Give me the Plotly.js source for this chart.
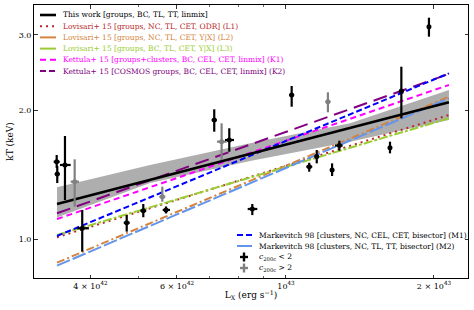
<!DOCTYPE html>
<html>
<head>
<meta charset="utf-8">
<script src="https://cdn.plot.ly/plotly-3.0.1.min.js"></script>
<style>html,body{margin:0;padding:0;background:#fff;}#chart{width:474px;height:310px;}</style>
</head>
<body>
<div id="chart"></div>
<script>
// ---- fit relations (Lx in erg/s, kT in keV), read at the ends of the plotted range
const fitLx     = [3.42e42, 2.146e43];
const thisWork  = [1.209, 2.088];
const lov1      = [1.011, 1.950];
const lov2      = [0.882, 2.152];
const lov3      = [1.023, 1.916];
const ket1      = [1.115, 2.292];
const ket2      = [1.150, 2.432];
const mark1     = [1.018, 2.440];
const mark2     = [0.868, 2.133];

// ---- uncertainty band of this work
const bandLx    = [3.42e42, 5.29e42, 8.45e42, 1.35e43, 2.146e43];
const bandUp    = [1.322, 1.491, 1.675, 1.865, 2.231];
const bandLo    = [1.125, 1.353, 1.523, 1.690, 1.898];

// ---- groups with c200c < 2 (Lx in units of 1e42 erg/s)
const lowLx   = [3.415, 3.424, 3.550, 3.849, 4.741, 5.124, 5.700, 7.145, 7.667, 8.540, 10.27, 11.15, 11.55, 12.41, 12.84, 16.28, 17.17, 19.54];
const lowLxLo = [3.367, 3.384, 3.467, 3.760, 4.675, 5.053, 5.612, 7.061, 7.514, 8.357, 10.15, 11.00, 11.44, 12.29, 12.58, 16.13, 16.97, 19.36];
const lowLxHi = [3.463, 3.464, 3.646, 3.972, 4.808, 5.196, 5.807, 7.229, 7.838, 8.742, 10.39, 11.31, 11.66, 12.53, 13.04, 16.43, 17.37, 19.72];
const lowKt   = [1.517, 1.420, 1.491, 1.061, 1.093, 1.166, 1.171, 1.898, 1.705, 1.177, 2.172, 1.477, 1.560, 1.451, 1.655, 1.636, 2.219, 3.134];
const lowKtLo = [1.467, 1.353, 1.235, 0.936, 1.042, 1.126, 1.149, 1.783, 1.601, 1.139, 2.039, 1.438, 1.504, 1.405, 1.610, 1.587, 1.916, 2.971];
const lowKtHi = [1.573, 1.483, 1.742, 1.171, 1.139, 1.209, 1.193, 2.011, 1.816, 1.209, 2.279, 1.509, 1.616, 1.504, 1.699, 1.690, 2.528, 3.290];

// ---- groups with c200c > 2
const highLx   = [3.715, 5.602, 7.396, 12.17];
const highLxLo = [3.646, 5.524, 7.236, 12.03];
const highLxHi = [3.791, 5.681, 7.572, 12.32];
const highKt   = [1.363, 1.257, 1.690, 2.095];
const highKtLo = [1.191, 1.224, 1.531, 1.979];
const highKtHi = [1.537, 1.327, 1.865, 2.203];

// ---- axis ticks
const xTickVals  = [4e42, 6e42, 1e43, 2e43];
const xTickText  = ['4 × 10<sup>42</sup>', '6 × 10<sup>42</sup>', '10<sup>43</sup>', '2 × 10<sup>43</sup>'];
const xMinorVals = [5e42, 7e42, 8e42, 9e42];
const yTickVals  = [1, 2, 3];
const yTickText  = ['1.0', '2.0', '3.0'];

// ---- legend labels
const legendTop = [
  'This work [groups, BC, TL, TT, linmix]',
  'Lovisari+ 15 [groups, NC, TL, CET, ODR] (L1)',
  'Lovisari+ 15 [groups, NC, TL, CET, Y|X] (L2)',
  'Lovisari+ 15 [groups, BC, TL, CET, Y|X] (L3)',
  'Kettula+ 15 [groups+clusters, BC, CEL, CET, linmix] (K1)',
  'Kettula+ 15 [COSMOS groups, BC, CEL, CET, linmix] (K2)'
];
const legendBottom = [
  'Markevitch 98 [clusters, NC, CEL, CET, bisector] (M1)',
  'Markevitch 98 [clusters, NC, TL, TT, bisector] (M2)',
  '<i>c</i><sub>200c</sub> < 2',
  '<i>c</i><sub>200c</sub> > 2'
];

// ---- styles
const FONT = 'DejaVu Serif';
const st = {
  tw:  {color: '#000000', width: 2.6, dash: 'solid'},
  l1:  {color: '#b8282a', width: 2, dash: '2px,4px'},
  l2:  {color: '#d4843e', width: 2, dash: '8px,3px,2px,3px'},
  l3:  {color: '#9acd32', width: 2, dash: '9px,2px,3px,2px'},
  k1:  {color: '#ff00ff', width: 2, dash: '6px,4px'},
  k2:  {color: '#800080', width: 2, dash: '14px,7px'},
  m1:  {color: '#0000ff', width: 2, dash: '6px,3px'},
  m2:  {color: '#6495ed', width: 2, dash: '14px,3px'}
};
const legendDash = {tw: 'solid', l1: '2px,4px', l2: 'solid', l3: 'solid', k1: '6px,4px', k2: '6px,3px', m1: '6px,3px', m2: 'solid'};

const scaleE42 = a => a.map(v => v * 1e42);
const diff = (a, b) => a.map((v, i) => v - b[i]);

const traces = [];
traces.push({x: bandLx, y: bandLo, mode: 'lines', line: {width: 0}, hoverinfo: 'skip', showlegend: false});
traces.push({x: bandLx, y: bandUp, mode: 'lines', line: {width: 0}, fill: 'tonexty',
  fillcolor: 'rgba(120,120,120,0.6)', hoverinfo: 'skip', showlegend: false});

const fits = [['l1', lov1], ['l2', lov2], ['l3', lov3], ['k1', ket1], ['k2', ket2], ['m1', mark1], ['m2', mark2], ['tw', thisWork]];
fits.forEach(([k, ys]) => traces.push({x: fitLx, y: ys, mode: 'lines', line: st[k], showlegend: false}));

function pts(lx, lxLo, lxHi, kt, ktLo, ktHi, color) {
  const X = scaleE42(lx), XL = scaleE42(lxLo), XH = scaleE42(lxHi);
  return {
    x: X, y: kt, mode: 'markers', showlegend: false,
    marker: {color: color, size: 5, symbol: 'circle'},
    error_x: {type: 'data', symmetric: false, array: diff(XH, X), arrayminus: diff(X, XL), color: color, thickness: 2.2, width: 0},
    error_y: {type: 'data', symmetric: false, array: diff(ktHi, kt), arrayminus: diff(kt, ktLo), color: color, thickness: 2.2, width: 0}
  };
}
traces.push(pts(highLx, highLxLo, highLxHi, highKt, highKtLo, highKtHi, '#808080'));
traces.push(pts(lowLx, lowLxLo, lowLxHi, lowKt, lowKtLo, lowKtHi, '#000000'));

// ---- manual legends (paper coordinates of the plot area 34..468 x 5..278 px)
const L = 34, R = 468, T = 5, B = 278;
const px = v => (v - L) / (R - L);
const py = v => (B - v) / (B - T);
const shapes = [], annotations = [];
const topKeys = ['tw', 'l1', 'l2', 'l3', 'k1', 'k2'];
legendTop.forEach((txt, i) => {
  const y = 15 + i * 11.2;
  const k = topKeys[i], s = st[k];
  shapes.push({type: 'line', xref: 'paper', yref: 'paper', x0: px(40), x1: px(56), y0: py(y), y1: py(y),
    line: {color: s.color, width: s.width, dash: legendDash[k]}});
  annotations.push({xref: 'paper', yref: 'paper', x: px(61), y: py(y), xanchor: 'left', yanchor: 'middle',
    text: txt, showarrow: false, font: {family: FONT, size: 7.5, color: s.color}});
});
const botKeys = ['m1', 'm2'];
legendBottom.forEach((txt, i) => {
  const y = 235 + i * 11;
  if (i < 2) {
    const k = botKeys[i], s = st[k];
    shapes.push({type: 'line', xref: 'paper', yref: 'paper', x0: px(237), x1: px(252), y0: py(y), y1: py(y),
      line: {color: s.color, width: s.width, dash: legendDash[k]}});
  } else {
    const c = i === 2 ? '#000000' : '#808080';
    shapes.push({type: 'line', xref: 'paper', yref: 'paper', x0: px(240), x1: px(248), y0: py(y), y1: py(y), line: {color: c, width: 2.4}});
    shapes.push({type: 'line', xref: 'paper', yref: 'paper', x0: px(244), x1: px(244), y0: py(y - 4.5), y1: py(y + 4.5), line: {color: c, width: 2.4}});
  }
  annotations.push({xref: 'paper', yref: 'paper', x: px(257), y: py(y), xanchor: 'left', yanchor: 'middle',
    text: txt, showarrow: false, font: {family: FONT, size: 7.5, color: '#000000'}});
});

const axisCommon = {
  type: 'log', showgrid: false, zeroline: false, showline: true, linecolor: '#000', linewidth: 1,
  mirror: 'allticks', ticks: 'inside', ticklen: 3.5, tickwidth: 0.8, tickcolor: '#000',
  tickfont: {family: FONT, size: 8, color: '#000'}
};

const layout = {
  width: 474, height: 310,
  margin: {l: L, r: 474 - R, t: T, b: 310 - B},
  paper_bgcolor: '#fff', plot_bgcolor: '#fff', showlegend: false,
  xaxis: Object.assign({}, axisCommon, {
    range: [42.4872, 43.3704], tickmode: 'array', tickvals: xTickVals, ticktext: xTickText,
    minor: {tickmode: 'array', tickvals: xMinorVals, ticks: 'inside', ticklen: 2, tickwidth: 0.6, tickcolor: '#000', showgrid: false},
    title: {text: 'L<sub>X</sub> (erg s<sup>−1</sup>)', font: {family: FONT, size: 9, color: '#000'}, standoff: 2}
  }),
  yaxis: Object.assign({}, axisCommon, {
    range: [-0.0903, 0.5468], tickmode: 'array', tickvals: yTickVals, ticktext: yTickText,
    title: {text: 'kT (keV)', font: {family: FONT, size: 9, color: '#000'}, standoff: 3}
  }),
  shapes: shapes, annotations: annotations
};

Plotly.newPlot('chart', traces, layout, {staticPlot: true, displayModeBar: false});
</script>
</body>
</html>
